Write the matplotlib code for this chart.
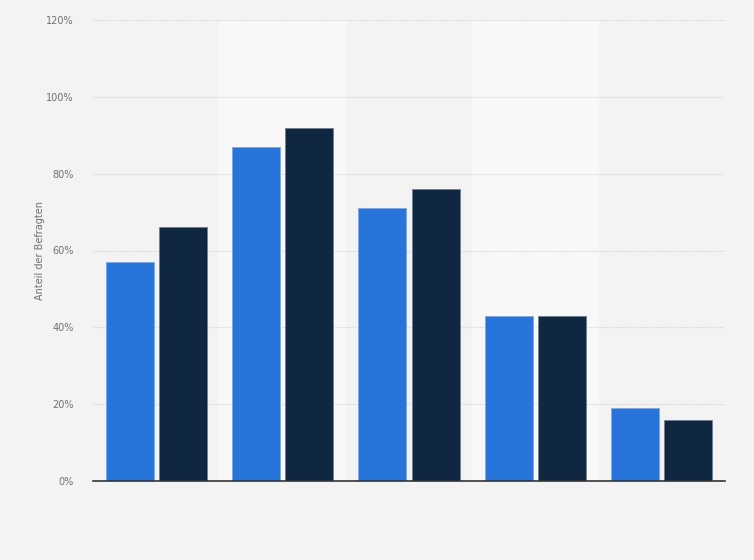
import matplotlib.pyplot as plt
import numpy as np

# values (percent)
categories = ["1", "2", "3", "4", "5"]
series_a = [57, 87, 71, 43, 19]
series_b = [66, 92, 76, 43, 16]
yticks = [0, 20, 40, 60, 80, 100, 120]

blue = "#2775db"
navy = "#0f2740"

fig = plt.figure(figsize=(7.54, 5.6), dpi=100)
fig.patch.set_facecolor("#f3f3f3")
ax = fig.add_axes([93 / 754, 79 / 560, 632 / 754, 461 / 560])
ax.set_facecolor("#f3f3f3")

x = np.arange(len(categories))
# lighter bands behind every second category
for i in x:
    if i % 2 == 1:
        ax.axvspan(i - 0.5, i + 0.5, ymin=0, ymax=1, color="#f8f8f8", zorder=0,
                   lw=0)

w = 0.38
off = 0.21
ax.bar(x - off, series_a, w, color=blue, edgecolor="#7aa8e8", linewidth=0.6,
       zorder=3)
ax.bar(x + off, series_b, w, color=navy, edgecolor="#6f7f90", linewidth=0.6,
       zorder=3)

ax.set_xlim(-0.5, len(categories) - 0.5)
ax.set_ylim(0, 120)
ax.set_yticks(yticks)
ax.set_yticklabels([f"{t}%" for t in yticks])
ax.set_xticks([])
ax.yaxis.grid(True, color="#d6d6d6", linestyle=(0, (1, 1)), linewidth=0.8,
              zorder=1)
ax.tick_params(axis="y", length=0, pad=14, labelsize=7, labelcolor="#6f6f6f")

for s in ["top", "right", "left"]:
    ax.spines[s].set_visible(False)
ax.spines["bottom"].set_color("#333333")
ax.spines["bottom"].set_linewidth(1.2)
ax.spines["bottom"].set_zorder(4)

fig.text(40 / 754, 1 - 250 / 560, "Anteil der Befragten", rotation=90,
         ha="center", va="center", fontsize=7, color="#6f6f6f")

fig.savefig("out.png", dpi=100, facecolor=fig.get_facecolor())
